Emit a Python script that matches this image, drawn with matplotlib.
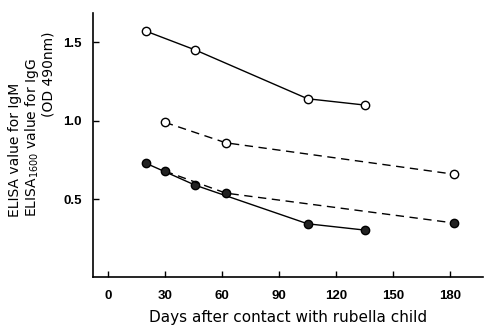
import matplotlib
matplotlib.use("Agg")
import matplotlib.pyplot as plt

# solid lines: IgM, dashed lines: IgG (ELISA1600)
igm_days = [20, 46, 105, 135]
igm_open = [1.57, 1.45, 1.14, 1.10]
igm_filled = [0.73, 0.59, 0.345, 0.305]

igg_days = [30, 62, 182]
igg_open = [0.99, 0.86, 0.66]
igg_filled = [0.68, 0.54, 0.35]

xticks = [0, 30, 60, 90, 120, 150, 180]
yticks = [0.5, 1.0, 1.5]

tick_font = ['Liberation Sans', 'DejaVu Sans']

fig = plt.figure(figsize=(4.86, 3.26), dpi=100)
ax = fig.add_axes([0.191, 0.150, 0.802, 0.810])

ax.plot(igm_days, igm_open, '-', color='black', lw=1.0, marker='o', ms=6,
        mfc='white', mec='black', mew=1.0)
ax.plot(igm_days, igm_filled, '-', color='black', lw=1.0, marker='o', ms=6,
        mfc='#222222', mec='black', mew=1.0)
ax.plot(igg_days, igg_open, '--', color='black', lw=1.0, dashes=(6, 4), marker='o', ms=6,
        mfc='white', mec='black', mew=1.0)
ax.plot(igg_days, igg_filled, '--', color='black', lw=1.0, dashes=(6, 4), marker='o', ms=6,
        mfc='#222222', mec='black', mew=1.0)

ax.set_xlim(-7.9, 197)
ax.set_ylim(0.006, 1.685)
ax.set_xticks(xticks)
ax.set_yticks(yticks)
ax.set_xticklabels([str(t) for t in xticks], family=tick_font, fontweight='bold', fontsize=9.5)
ax.set_yticklabels(['0.5', '1.0', '1.5'], family=tick_font, fontweight='bold', fontsize=9.5)
ax.tick_params(direction='in', length=4, width=1)
ax.tick_params(axis='y', pad=8)
ax.tick_params(axis='x', pad=9)
ax.spines['top'].set_visible(False)
ax.spines['right'].set_visible(False)
ax.spines['left'].set_linewidth(1.2)
ax.spines['bottom'].set_linewidth(1.2)

ax.set_xlabel('Days after contact with rubella child', fontsize=11, labelpad=6)

# three-line y label
fig.text(0.016, 0.334, 'ELISA value for IgM', rotation=90, fontsize=10,
         ha='left', va='bottom')
fig.text(0.048, 0.334, 'ELISA$_{1600}$ value for IgG', rotation=90, fontsize=10,
         ha='left', va='bottom')
fig.text(0.086, 0.902, '(OD 490nm)', rotation=90, fontsize=10,
         ha='left', va='top')

fig.savefig('out.png', dpi=100)
